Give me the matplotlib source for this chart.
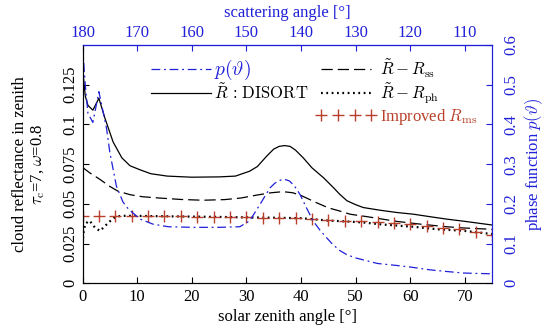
import matplotlib
matplotlib.use("Agg")
import matplotlib.pyplot as plt

plt.rcParams['font.family'] = ['Liberation Serif', 'DejaVu Serif']
plt.rcParams['mathtext.fontset'] = 'cm'
plt.rcParams['font.size'] = 12

# ---- dados ----
sza_disort = [0, 0.5, 1.0, 1.9, 3.0, 4.1, 5.6, 7.2, 8.7, 10.5, 12.5, 15.5, 20, 25, 28,
              30.6, 32, 33.7, 35, 36, 37, 38, 39, 40.4, 42, 44.1, 46, 47.1, 48.4, 50,
              51.4, 54.5, 57.5, 60.6, 63.5, 66.7, 70, 75]
r_disort = [0.136, 0.118, 0.112, 0.109, 0.1165, 0.104, 0.089, 0.079, 0.074, 0.0715,
            0.069, 0.0675, 0.0668, 0.067, 0.0675, 0.0706, 0.0735, 0.080, 0.0845, 0.0862,
            0.0867, 0.0862, 0.0838, 0.079, 0.0727, 0.0665, 0.060, 0.056, 0.052, 0.0495,
            0.0477, 0.046, 0.0446, 0.0435, 0.042, 0.0404, 0.039, 0.0367]

sza_ss = [0, 1.3, 3.2, 5, 6.5, 8.7, 11, 14, 18, 22, 26, 29, 32, 34.5, 36.7, 38.5, 40,
          42.8, 45, 47, 49, 52, 57.5, 62, 66.7, 70, 75]
r_ss = [0.073, 0.0696, 0.0654, 0.061, 0.058, 0.0558, 0.0545, 0.0537, 0.0528, 0.0523,
        0.0527, 0.0537, 0.0556, 0.057, 0.0577, 0.057, 0.0553, 0.0508, 0.0475, 0.0456,
        0.0435, 0.042, 0.039, 0.0372, 0.0356, 0.0348, 0.034]

sza_ph = [0, 0.2, 0.5, 1.3, 2.3, 3.2, 4.1, 5.0, 5.9, 7, 9, 15, 20, 25, 30, 35, 40, 45,
          48, 51.4, 55, 60.6, 65, 69.7, 75]
r_ph = [0.025, 0.032, 0.0375, 0.0394, 0.035, 0.033, 0.036, 0.039, 0.0415, 0.0425,
        0.0425, 0.0422, 0.042, 0.0418, 0.0415, 0.0413, 0.041, 0.0395, 0.039, 0.0383,
        0.037, 0.0356, 0.034, 0.0331, 0.031]

sza_ms = [0, 3, 6, 9, 12, 15, 18, 21, 24, 27, 30, 33, 36, 39, 42, 45, 48, 51, 54, 57,
          60, 63, 66, 69, 72, 75]
r_ms = [0.0425, 0.0425, 0.0425, 0.0425, 0.0425, 0.0423, 0.0422, 0.042, 0.042, 0.042,
        0.0418, 0.0412, 0.041, 0.041, 0.0405, 0.040, 0.0394, 0.039, 0.0383, 0.0377,
        0.0372, 0.0358, 0.035, 0.034, 0.0325, 0.0304]

sza_p = [0, 0.5, 1.0, 1.9, 3.0, 4.4, 5.0, 6.2, 7.4, 8.4, 10.5, 12.9, 15.7, 20, 25, 28.8,
         30.6, 32.5, 34.3, 35.2, 36, 37, 37.9, 38.8, 39.8, 41, 42.2, 43.4, 44.6, 45.8,
         47.1, 48.4, 50, 51.4, 54, 57.5, 60, 63.6, 66.5, 69.7, 72, 75]
fase = [0.6, 0.5, 0.428, 0.405, 0.4825, 0.39, 0.33, 0.245, 0.205, 0.187, 0.162, 0.149,
        0.1425, 0.141, 0.141, 0.1425, 0.1575, 0.199, 0.24, 0.252, 0.259, 0.262, 0.2575,
        0.245, 0.224, 0.19, 0.1575, 0.135, 0.116, 0.098, 0.0825, 0.072, 0.064, 0.059,
        0.05, 0.045, 0.041, 0.034, 0.03, 0.026, 0.025, 0.024]

azul = '#2020d8'
vermelho = '#b8402a'

fig = plt.figure(figsize=(5.5, 3.31), dpi=100)
ax = fig.add_axes([0.150, 0.144, 0.745, 0.720])
ax2 = ax.twinx()

# curvas de refletância (eixo esquerdo)
l_dis, = ax.plot(sza_disort, r_disort, color='black', lw=0.9)
l_ss, = ax.plot(sza_ss, r_ss, color='black', lw=0.9, dashes=(9, 4))
l_ph, = ax.plot(sza_ph, r_ph, color='black', lw=1.6, linestyle=(0, (0.8, 1.6)))
l_ms, = ax.plot(sza_ms, r_ms, linestyle='none', marker='+', markersize=9,
                markeredgewidth=1.0, color=vermelho)

# função de fase (eixo direito)
l_p, = ax2.plot(sza_p, fase, color=azul, lw=0.9, dashes=(7, 3, 1.5, 3))

ax.set_xlim(0, 75)
ax.set_ylim(0, 0.15)
ax2.set_ylim(0, 0.6)
ax.set_xticks([0, 10, 20, 30, 40, 50, 60, 70])
ax.set_yticks([0, 0.025, 0.05, 0.075, 0.1, 0.125])
ax.set_yticklabels(['0', '0.025', '0.05', '0.075', '0.1', '0.125'])
ax2.set_yticks([0, 0.1, 0.2, 0.3, 0.4, 0.5, 0.6])
ax2.set_yticklabels(['0', '0.1', '0.2', '0.3', '0.4', '0.5', '0.6'])

ax.tick_params(direction='in', length=4, width=0.8)
ax.tick_params(axis='x', pad=4)
ax.tick_params(axis='y', pad=3)
ax2.tick_params(direction='in', length=4, width=0.8, colors=azul, pad=8)
plt.setp(ax.get_yticklabels(), rotation=90, va='center')
plt.setp(ax2.get_yticklabels(), rotation=90, va='center', ha='left')

# eixo superior: ângulo de espalhamento = 180 - sza
top = ax.secondary_xaxis('top', functions=(lambda x: 180 - x, lambda s: 180 - s))
top.set_xticks([180, 170, 160, 150, 140, 130, 120, 110])
top.tick_params(direction='in', length=4, width=0.8, colors=azul, pad=3)
top.set_xlabel('scattering angle [°]', color=azul, labelpad=6)
top.spines['top'].set_color(azul)

for a in (ax, ax2):
    a.spines['right'].set_color(azul)
    a.spines['top'].set_color(azul)
    a.spines['left'].set_linewidth(0.8)
    a.spines['bottom'].set_linewidth(0.8)

ax.set_xlabel('solar zenith angle [°]', labelpad=3)
ax.set_ylabel('cloud reflectance in zenith\n' + r'$\tau_\mathrm{c}$=7, $\omega$=0.8',
              linespacing=1.1)
ax.yaxis.set_label_coords(-0.087, 0.5)
ax2.set_ylabel(r'phase function $p(\vartheta)$', color=azul, labelpad=2)

# legendas (duas colunas)
leg1 = ax2.legend([l_p, l_dis], [r'$p(\vartheta)$', r'$\tilde{R}\,:\,\mathrm{DISORT}$'],
                  loc='upper left', bbox_to_anchor=(0.259, 0.850),
                  bbox_transform=fig.transFigure, frameon=False, handlelength=3.6,
                  handletextpad=0.2, labelspacing=0.05, borderpad=0, fontsize=12)
leg1.get_texts()[0].set_color(azul)
leg1.get_texts()[0].set_fontsize(14)
leg2 = ax2.legend([l_ss, l_ph, l_ms],
                  [r'$\tilde{R}-R_\mathrm{ss}$', r'$\tilde{R}-R_\mathrm{ph}$',
                   r'Improved $R_\mathrm{ms}$'],
                  loc='upper left', bbox_to_anchor=(0.560, 0.853),
                  bbox_transform=fig.transFigure, frameon=False, handlelength=3.6,
                  handletextpad=0.2, labelspacing=0.08, borderpad=0, fontsize=12,
                  numpoints=4)
leg2.get_texts()[2].set_color(vermelho)
ax2.add_artist(leg1)

fig.savefig('out.png', dpi=100)
